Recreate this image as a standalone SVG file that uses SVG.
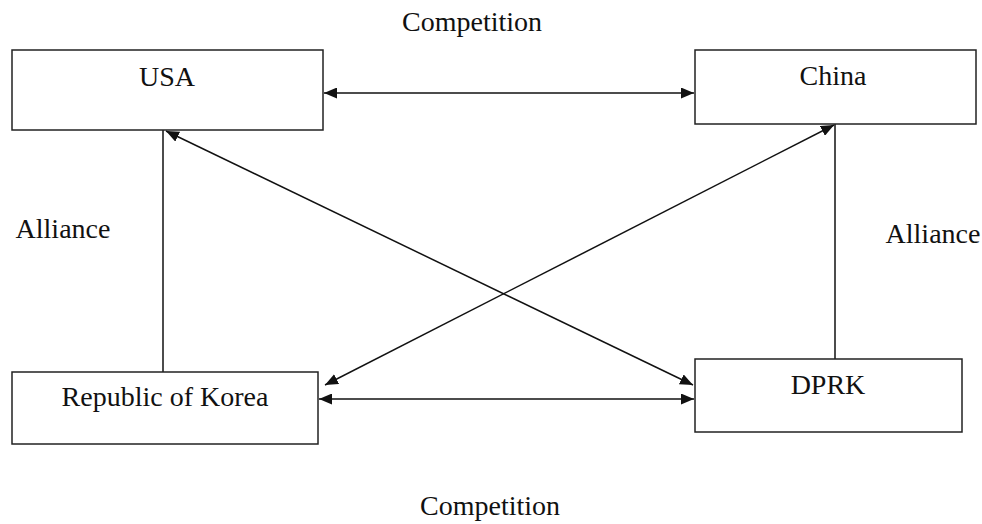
<svg xmlns="http://www.w3.org/2000/svg" width="982" height="524" viewBox="0 0 982 524">
<style>
.box{fill:#fff;stroke:#222;stroke-width:1.5}
.lbl{font-family:"Liberation Serif","Times New Roman",serif;font-size:28px;fill:#111;text-anchor:middle}
.ln{stroke:#111;stroke-width:1.5;fill:none}
.ar{marker-start:url(#ah);marker-end:url(#ah)}
</style>
<defs>
<marker id="ah" viewBox="0 0 13 11" refX="13" refY="5.5" markerWidth="13" markerHeight="11" markerUnits="userSpaceOnUse" orient="auto-start-reverse">
<path d="M0,0 L13,5.5 L0,11 z" fill="#111"/>
</marker>
</defs>
<rect width="982" height="524" fill="#fff"/>
<g id="connectors">
<line class="ln ar" x1="324" y1="93" x2="694" y2="93"/>
<line class="ln ar" x1="319" y1="399" x2="694" y2="399"/>
<line class="ln" x1="163" y1="130" x2="163" y2="372"/>
<line class="ln" x1="835" y1="124" x2="835" y2="359"/>
<line class="ln ar" x1="166" y1="131" x2="693" y2="385"/>
<line class="ln ar" x1="834" y1="125" x2="325" y2="385"/>
</g>
<g id="usa"><rect class="box" x="12" y="50" width="311" height="80"/><text class="lbl" x="167" y="86">USA</text></g>
<g id="china"><rect class="box" x="695" y="50" width="281" height="74"/><text class="lbl" x="833" y="85">China</text></g>
<g id="rok"><rect class="box" x="12" y="372" width="306" height="72"/><text class="lbl" x="165" y="406">Republic of Korea</text></g>
<g id="dprk"><rect class="box" x="695" y="359" width="267" height="73"/><text class="lbl" x="828" y="394">DPRK</text></g>
<g id="labels">
<text class="lbl" x="472" y="31">Competition</text>
<text class="lbl" x="490" y="515">Competition</text>
<text class="lbl" x="63" y="238">Alliance</text>
<text class="lbl" x="933" y="243">Alliance</text>
</g>
</svg>
